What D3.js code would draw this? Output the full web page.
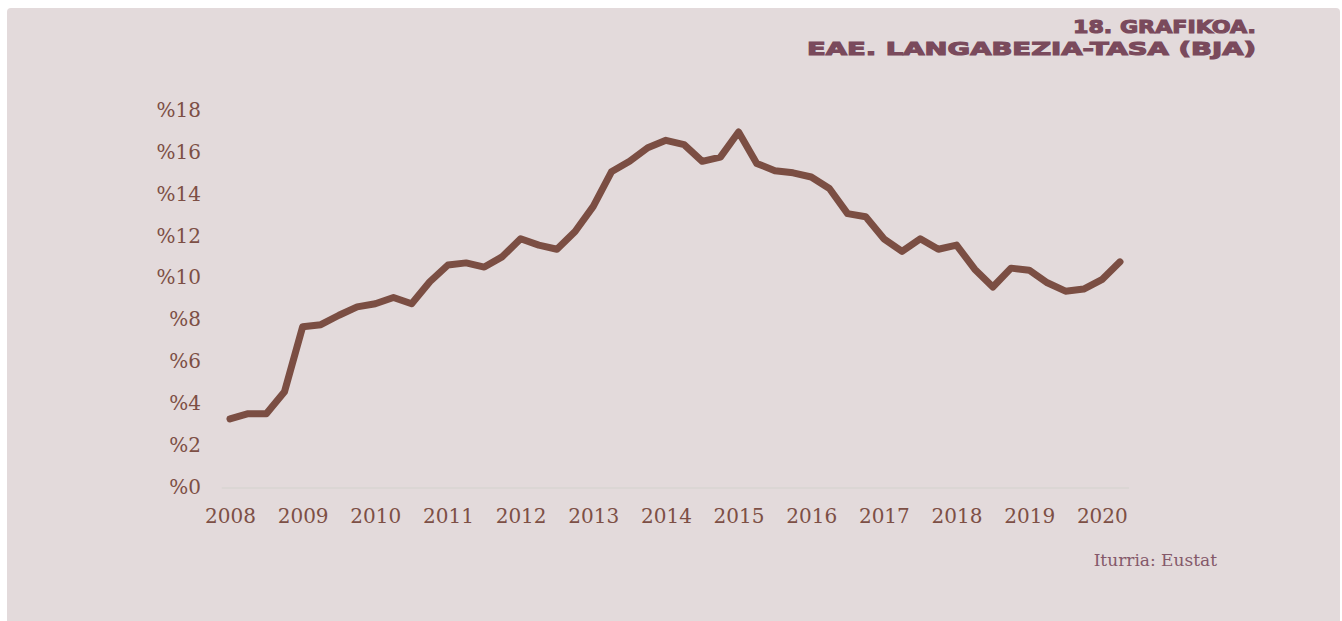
<!DOCTYPE html>
<html>
  <head>
    <meta charset="UTF-8">
    <title>EAE. Langabezia-tasa (BJA)</title>
    <style>
      body { margin: 0; background: #fff; }
      svg { display: block; }
    </style>
  </head>
  <body>
    <div id='chart'></div>
    <script src='https://d3js.org/d3.v7.min.js'></script>
    <script>

      // quarterly data, 2008 Q1 .. 2020 Q2
      const years = ['2008', '2009', '2010', '2011', '2012', '2013', '2014',
        '2015', '2016', '2017', '2018', '2019', '2020'];
      const rates = [
        3.25, 3.5, 3.5, 4.55,
        7.65, 7.75, 8.2, 8.6,
        8.75, 9.05, 8.75, 9.8,
        10.6, 10.7, 10.5, 11.0,
        11.85, 11.55, 11.35, 12.2,
        13.4, 15.05, 15.55, 16.2,
        16.55, 16.35, 15.55, 15.75,
        16.95, 15.45, 15.1, 15.0,
        14.8, 14.25, 13.05, 12.9,
        11.85, 11.25, 11.85, 11.35,
        11.55, 10.4, 9.55, 10.45,
        10.35, 9.75, 9.35, 9.45,
        9.9, 10.75
      ];
      const yTicks = [0, 2, 4, 6, 8, 10, 12, 14, 16, 18];

      const width = 1342;
      const height = 621;

      const svg = d3.select('#chart')
        .append('svg')
        .attr('width', width)
        .attr('height', height);

      // panel
      svg.append('rect')
        .attr('x', 7)
        .attr('y', 8)
        .attr('width', 1333)
        .attr('height', 620)
        .attr('rx', 4)
        .attr('fill', '#e3dadb');

      const x = d3.scaleLinear()
        .domain([0, rates.length - 1])
        .range([230, 1120]);

      const y = d3.scaleLinear()
        .domain([0, 18])
        .range([487, 110]);

      // baseline
      svg.append('line')
        .attr('x1', x(-0.45))
        .attr('x2', x(rates.length - 0.5))
        .attr('y1', y(0) + 1)
        .attr('y2', y(0) + 1)
        .attr('stroke', '#d8d4d2')
        .attr('stroke-width', 1.5);

      const yAxis = svg.append('g')
        .attr('transform', 'translate(201,0)')
        .call(d3.axisLeft(y)
          .tickValues(yTicks)
          .tickSize(0)
          .tickPadding(0)
          .tickFormat((d) => `%${d}`));
      yAxis.select('.domain').remove();
      yAxis.selectAll('text')
        .attr('font-family', '"DejaVu Serif", serif')
        .attr('font-size', 20)
        .attr('fill', '#7d4f45');

      const xAxis = svg.append('g')
        .attr('transform', 'translate(0,509)')
        .call(d3.axisBottom(x)
          .tickValues(years.map((d, i) => i * 4))
          .tickSize(0)
          .tickPadding(0)
          .tickFormat((d) => years[d / 4]));
      xAxis.select('.domain').remove();
      xAxis.selectAll('text')
        .attr('font-family', '"DejaVu Serif", serif')
        .attr('font-size', 20)
        .attr('fill', '#7d4f45');

      const line = d3.line()
        .x((d, i) => x(i))
        .y((d) => y(d));

      svg.append('path')
        .datum(rates)
        .attr('d', line)
        .attr('fill', 'none')
        .attr('stroke', '#7b4e43')
        .attr('stroke-width', 7)
        .attr('stroke-linejoin', 'round')
        .attr('stroke-linecap', 'round');

      // title
      const titleLines = [
        { text: '18. GRAFIKOA.', x: 1073, y: 33, len: 183 },
        { text: 'EAE. LANGABEZIA-TASA (BJA)', x: 807, y: 55, len: 449 }
      ];
      svg.selectAll('.title')
        .data(titleLines)
        .enter().append('text')
        .attr('class', 'title')
        .attr('x', (d) => d.x)
        .attr('y', (d) => d.y)
        .attr('textLength', (d) => d.len)
        .attr('lengthAdjust', 'spacingAndGlyphs')
        .attr('font-family', '"DejaVu Sans", sans-serif')
        .attr('font-weight', 'bold')
        .attr('font-size', 18)
        .attr('fill', '#7a4a5c')
        .attr('stroke', '#7a4a5c')
        .attr('stroke-width', 1.1)
        .text((d) => d.text);

      svg.append('text')
        .attr('x', 1217)
        .attr('y', 566)
        .attr('text-anchor', 'end')
        .attr('font-family', '"DejaVu Serif", serif')
        .attr('font-size', 17)
        .attr('fill', '#85596a')
        .text('Iturria: Eustat');

    </script>
  </body>
</html>
